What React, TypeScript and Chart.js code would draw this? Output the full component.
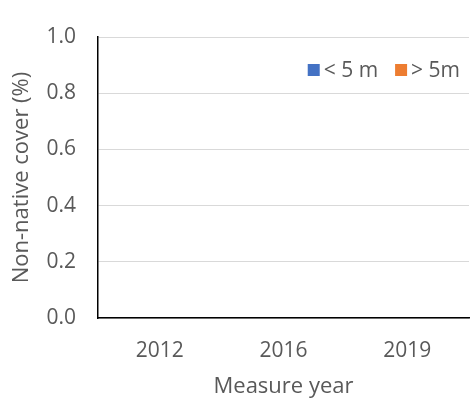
import React, { useEffect, useRef } from "react";
import { Chart, registerables } from "chart.js";

Chart.register(...registerables);

const categories = ["2012", "2016", "2019"];
const seriesNames = ["< 5 m", "> 5m"];
const under5m: number[] = [0, 0, 0];
const over5m: number[] = [0, 0, 0];
const seriesColors = ["#4472C4", "#ED7D31"];
const yTicks = [0, 0.2, 0.4, 0.6, 0.8, 1.0];

const FONT = "'Open Sans', 'Liberation Sans', sans-serif";
const TEXT = "#595959";

const innerLegend = {
  id: "innerLegend",
  afterDraw(chart: any) {
    const ctx = chart.ctx;
    const area = chart.chartArea;
    const box = 12;
    const gapBoxText = 4;
    const gapItems = 17;
    ctx.save();
    ctx.font = `21px ${FONT}`;
    ctx.textBaseline = "middle";
    const items = chart.data.datasets.map((d: any) => ({
      label: d.label,
      color: d.backgroundColor,
      w: ctx.measureText(d.label).width,
    }));
    const total =
      items.reduce((s: number, it: any) => s + box + gapBoxText + it.w, 0) +
      gapItems * (items.length - 1);
    let x = area.right - 9 - total;
    const cy = area.top + 33;
    for (const it of items) {
      ctx.fillStyle = it.color;
      ctx.fillRect(x, cy - box / 2, box, box);
      x += box + gapBoxText;
      ctx.fillStyle = TEXT;
      ctx.textAlign = "left";
      ctx.fillText(it.label, x, cy + 1);
      x += it.w + gapItems;
    }
    ctx.restore();
  },
};

export default function App() {
  const ref = useRef<HTMLCanvasElement | null>(null);
  useEffect(() => {
    if (!ref.current) return;
    const chart = new Chart(ref.current, {
      type: "bar",
      data: {
        labels: categories,
        datasets: [
          { label: seriesNames[0], data: under5m, backgroundColor: seriesColors[0], borderWidth: 0 },
          { label: seriesNames[1], data: over5m, backgroundColor: seriesColors[1], borderWidth: 0 },
        ],
      },
      options: {
        animation: false,
        responsive: false,
        maintainAspectRatio: false,
        layout: { padding: { top: 37, right: 3, left: 0, bottom: 0 } },
        plugins: {
          legend: { display: false },
          tooltip: { enabled: false },
        },
        scales: {
          x: {
            grid: { display: false, drawTicks: false },
            border: { display: true, color: "#000000", width: 1.5 },
            ticks: {
              color: TEXT,
              font: { family: FONT, size: 21 },
              padding: 20,
            },
            title: {
              display: true,
              text: "Measure year",
              color: TEXT,
              font: { family: FONT, size: 22 },
              padding: { top: 0, bottom: 3 },
            },
            afterFit(scale: any) {
              scale.height = 85;
            },
          },
          y: {
            min: 0,
            max: 1,
            afterBuildTicks(scale: any) {
              scale.ticks = yTicks.map((v) => ({ value: v }));
            },
            grid: { color: "#d9d9d9", drawTicks: false, lineWidth: 1 },
            border: { display: true, color: "#000000", width: 1.5 },
            ticks: {
              color: TEXT,
              font: { family: FONT, size: 21 },
              padding: 22,
              callback: (v: any) => Number(v).toFixed(1),
            },
            title: {
              display: true,
              text: "Non-native cover (%)",
              color: TEXT,
              font: { family: FONT, size: 22 },
              padding: { top: 9, bottom: 0 },
            },
            afterFit(scale: any) {
              scale.width = 98;
            },
          },
        },
      },
      plugins: [innerLegend],
    });
    return () => chart.destroy();
  }, []);
  return (
    <div style={{ position: "fixed", left: 0, top: 0, width: 472, height: 403, background: "#fff" }}>
      <canvas ref={ref} width={472} height={403} style={{ width: 472, height: 403 }} />
    </div>
  );
}
